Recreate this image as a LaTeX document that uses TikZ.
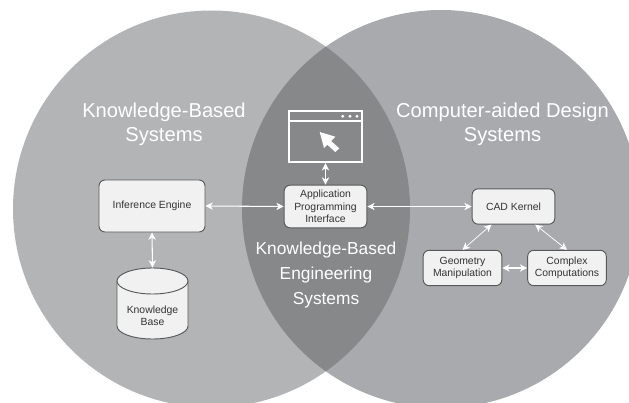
\documentclass[tikz,border=0pt]{standalone}
\usepackage{fontspec}
\setmainfont{Liberation Sans}
\usetikzlibrary{arrows.meta,shapes.geometric}
\definecolor{leftc}{HTML}{B3B4B6}
\definecolor{rightc}{HTML}{A9AAAE}
\definecolor{lensc}{HTML}{87888A}
\definecolor{boxc}{HTML}{F1F1F1}
\definecolor{edgec}{HTML}{58595B}
\definecolor{inkc}{HTML}{333333}
\tikzset{
  x=0.75pt,y=-0.75pt,
  boxn/.style={draw=edgec,line width=0.7pt,fill=boxc,rounded corners=4.5pt,align=center,text=inkc,font=\fontsize{7.8}{9.25}\selectfont,inner sep=0pt},
  biarrow/.style={draw=white,line width=0.8pt,{Stealth[length=5.5pt,width=5.5pt,inset=1.6pt]}-{Stealth[length=5.5pt,width=5.5pt,inset=1.6pt]}},
  thinarrow/.style={biarrow,line width=0.55pt},
  bigtext/.style={text=white,align=center,font=\fontsize{15.1}{18}\selectfont,inner sep=0pt},
  lenstext/.style={text=white,align=center,font=\fontsize{13}{18.75}\selectfont,inner sep=0pt}
}
\begin{document}
\begin{tikzpicture}
\useasboundingbox (0,0) rectangle (629,403);
\fill[white] (0,0) rectangle (629,403);
\begin{scope}
\clip (0,0) rectangle (629,403);
\fill[leftc] (211.5,209) circle (198.5);
\fill[rightc] (441,209) circle (199);
\begin{scope}
\clip (211.5,209) circle (198.5);
\fill[lensc] (441,209) circle (199);
\end{scope}
\end{scope}
\node[bigtext] (kbs) at (164,124) {Knowledge-Based\\Systems};
\node[bigtext] (cad) at (502.5,124) {Computer-aided Design\\Systems};
\node[lenstext] (kbe) at (326,275) {Knowledge-Based\\Engineering\\Systems};
\node[boxn,minimum width=79.5pt,minimum height=39pt] (inf) at (152,206) {Inference Engine};
\node[boxn,minimum width=62pt,minimum height=32pt] (api) at (325.5,206.5) {Application\\Programming\\Interface};
\node[boxn,minimum width=62pt,minimum height=26.5pt] (kern) at (513.5,206.5) {CAD Kernel};
\node[boxn,minimum width=59pt,minimum height=26.5pt] (geo) at (462.5,268) {Geometry\\Manipulation};
\node[boxn,minimum width=59pt,minimum height=26.5pt] (comp) at (567,268) {Complex\\Computations};
% cylinder: body, then the top ellipse as a named node
\draw[edgec,line width=0.7pt,fill=boxc] (117,281) -- (117,326) arc[start angle=180,end angle=360,x radius=35.5,y radius=-13] -- (188,281) -- cycle;
\node[ellipse,draw=edgec,line width=0.7pt,fill=boxc,minimum width=53.2pt,minimum height=19.5pt,inner sep=0pt] (kb) at (152.5,281) {};
\node[align=center,text=inkc,font=\fontsize{7.8}{9.25}\selectfont,inner sep=0pt] (kbl) at (152.5,315.5) {Knowledge\\Base};
\node[draw=white,line width=1.5pt,minimum width=54.5pt,minimum height=38.5pt,inner sep=0pt] (win) at (325.5,136.5) {};
\draw[white,line width=1.3pt] ([yshift=-8.4pt]win.north west) -- ([yshift=-8.4pt]win.north east);
\fill[white] (342.7,116.3) circle (1.6) (350,116.3) circle (1.6) (357,116.3) circle (1.6);
\fill[white] (319.7,132) -- (335.3,136.7) -- (331,141) -- (339.3,148.3) -- (335.3,152) -- (327.3,144.7) -- (324,148) -- cycle;
\draw[biarrow] (win.south) -- (api.north);
\draw[biarrow] (inf.east) -- (api.west);
\draw[biarrow] (api.east) -- (kern.west);
\draw[biarrow] (inf.south) -- (kb.north);
\draw[thinarrow] ([xshift=14.8pt]kern.south west) -- (geo.north);
\draw[thinarrow] ([xshift=-15pt]kern.south east) -- (comp.north);
\draw[biarrow] (geo.east) -- (comp.west);
\end{tikzpicture}
\end{document}
